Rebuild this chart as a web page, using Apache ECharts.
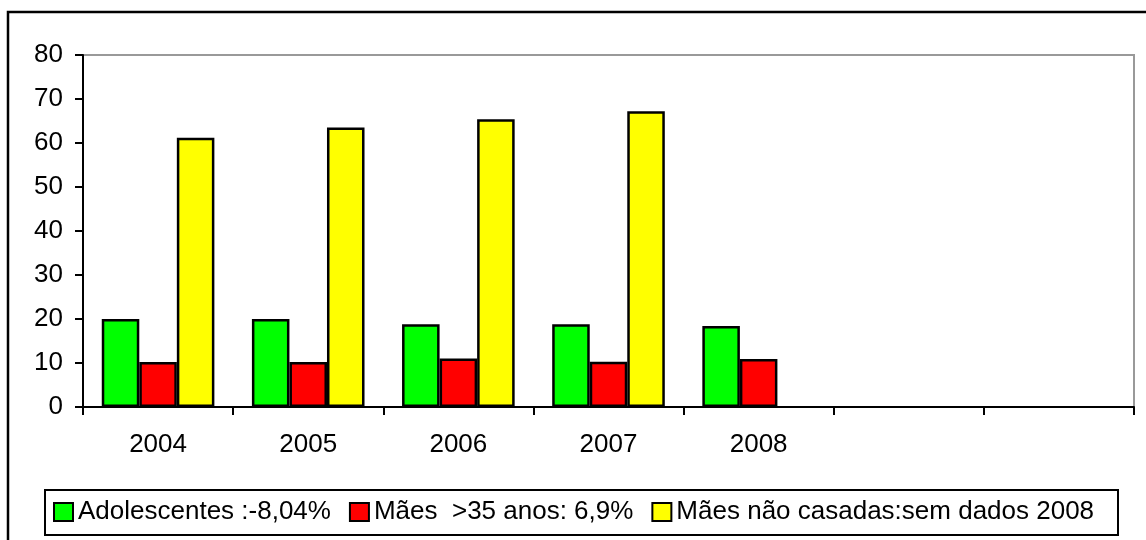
<!DOCTYPE html>
<html>
<head>
<meta charset="utf-8">
<script src="https://cdn.jsdelivr.net/npm/echarts@6/dist/echarts.min.js"></script>
<style>
  html, body { margin: 0; padding: 0; background: #fff; }
  #chart { width: 1146px; height: 540px; }
</style>
</head>
<body>
<div id="chart"></div>
<script>
// Categories: five years plus two empty slots on the right of the axis
const categories = ['2004', '2005', '2006', '2007', '2008', '', ''];

// Series values (%)
const adolescentes = [20.0, 20.0, 18.8, 18.8, 18.4, null, null];
const maesMais35 = [10.2, 10.2, 11.0, 10.3, 10.9, null, null];
const maesNaoCasadas = [61.2, 63.5, 65.4, 67.2, null, null, null];

// Series names shown in the legend
const seriesNames = [
  'Adolescentes :-8,04%',
  'Mães  >35 anos: 6,9%',
  'Mães não casadas:sem dados 2008'
];

// Value axis range
const yMin = 0, yMax = 80, yStep = 10;

const chart = echarts.init(document.getElementById('chart'), null, { renderer: 'canvas' });

const axisFont = { fontFamily: 'Liberation Sans', fontSize: 26, color: '#000' };

function barSeries(name, data, color) {
  return {
    name: name,
    type: 'bar',
    data: data,
    barGap: '0%',
    barCategoryGap: '25%',
    itemStyle: { color: color, borderColor: '#000', borderWidth: 2.5 },
    emphasis: { disabled: true }
  };
}

chart.setOption({
  animation: false,
  backgroundColor: '#fff',
  grid: {
    left: 83, right: 12, top: 55, bottom: 133,
    show: true, borderColor: '#999', borderWidth: 2, backgroundColor: 'transparent'
  },
  xAxis: {
    type: 'category',
    data: categories,
    axisLine: { lineStyle: { color: '#000', width: 2 } },
    axisTick: { show: true, length: 8, inside: false, alignWithLabel: false, lineStyle: { color: '#000', width: 2 } },
    axisLabel: Object.assign({ margin: 25, interval: 0 }, axisFont),
    splitLine: { show: false }
  },
  yAxis: {
    type: 'value',
    min: yMin, max: yMax, interval: yStep,
    axisLine: { show: true, lineStyle: { color: '#000', width: 2 } },
    axisTick: { show: true, length: 8, lineStyle: { color: '#000', width: 2 } },
    axisLabel: Object.assign({ margin: 20 }, axisFont),
    splitLine: { show: false }
  },
  legend: {
    left: 53, top: 499,
    padding: 0,
    itemWidth: 19, itemHeight: 18,
    itemGap: 18,
    icon: 'rect',
    selectedMode: false,
    textStyle: { fontFamily: 'Liberation Sans', fontSize: 26, color: '#000' },
    data: seriesNames
  },
  graphic: [
    {
      type: 'rect', silent: true, z: -1,
      shape: { x: 8, y: 12, width: 1160, height: 560 },
      style: { fill: 'none', stroke: '#000', lineWidth: 2.5 }
    },
    {
      type: 'rect', silent: true, z: -1,
      shape: { x: 45, y: 490, width: 1073, height: 45 },
      style: { fill: '#fff', stroke: '#000', lineWidth: 2 }
    }
  ],
  series: [
    barSeries(seriesNames[0], adolescentes, '#00FF00'),
    barSeries(seriesNames[1], maesMais35, '#FF0000'),
    barSeries(seriesNames[2], maesNaoCasadas, '#FFFF00')
  ]
});
</script>
</body>
</html>
